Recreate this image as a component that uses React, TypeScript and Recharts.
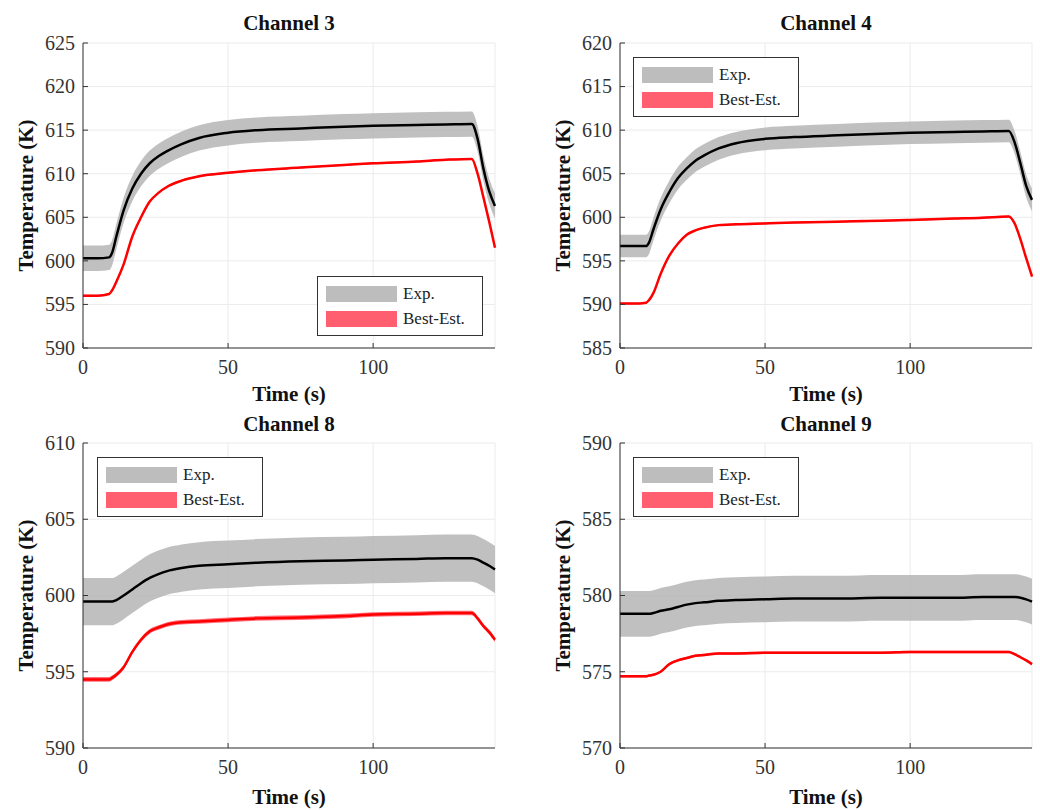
import { ComposedChart, Area, Line, XAxis, YAxis, CartesianGrid, Legend } from "recharts"

const FONT = "Liberation Serif"
const AXIS_COLOR = "#333333"

// time samples shared by all channels (s)
const TIME = [0, 5, 9, 10, 11.5, 14, 17, 20, 23, 26, 29, 34, 40, 50, 60, 75, 90, 100, 115, 125, 134, 136, 138, 140, 142]
const TIME_TICKS = [0, 50, 100]

// Channel 3
const CH3_EXP = [600.3, 600.3, 600.4, 600.9, 602.8, 605.8, 608.3, 610.0, 611.2, 612.0, 612.6, 613.4, 614.1, 614.7, 615.0, 615.2, 615.4, 615.5, 615.6, 615.65, 615.7, 614.0, 610.6, 608.0, 606.3]
const CH3_BEST = [596.0, 596.0, 596.2, 596.6, 597.6, 599.6, 602.8, 605.0, 606.8, 607.8, 608.5, 609.2, 609.7, 610.1, 610.4, 610.7, 611.0, 611.2, 611.4, 611.6, 611.7, 610.0, 607.3, 604.5, 601.5]
const CH3_EXP_UNC = 1.45
const CH3_BEST_UNC = 0.1
const CH3_TICKS = [590, 595, 600, 605, 610, 615, 620, 625]

// Channel 4
const CH4_EXP = [596.7, 596.7, 596.7, 597.1, 598.6, 600.9, 602.9, 604.5, 605.6, 606.5, 607.1, 607.9, 608.5, 609.0, 609.2, 609.4, 609.6, 609.7, 609.8, 609.85, 609.9, 608.6, 606.2, 603.6, 602.0]
const CH4_BEST = [590.1, 590.1, 590.2, 590.5, 591.3, 593.5, 595.6, 597.0, 598.0, 598.5, 598.8, 599.1, 599.2, 599.3, 599.4, 599.5, 599.6, 599.7, 599.85, 599.95, 600.1, 599.3, 597.5, 595.3, 593.2]
const CH4_EXP_UNC = 1.3
const CH4_BEST_UNC = 0.1
const CH4_TICKS = [585, 590, 595, 600, 605, 610, 615, 620]

// Channel 8
const CH8_EXP = [599.6, 599.6, 599.6, 599.6, 599.7, 600.0, 600.4, 600.8, 601.15, 601.4, 601.6, 601.8, 601.95, 602.05, 602.15, 602.25, 602.3, 602.35, 602.4, 602.45, 602.45, 602.35, 602.15, 601.95, 601.7]
const CH8_BEST = [594.5, 594.5, 594.5, 594.6, 594.8, 595.3, 596.3, 597.1, 597.65, 597.9, 598.1, 598.25, 598.3, 598.4, 598.5, 598.55, 598.65, 598.75, 598.8, 598.85, 598.85, 598.5, 598.0, 597.6, 597.1]
const CH8_EXP_UNC = 1.55
const CH8_BEST_UNC = 0.15
const CH8_TICKS = [590, 595, 600, 605, 610]

// Channel 9
const CH9_EXP = [578.8, 578.8, 578.8, 578.8, 578.85, 579.0, 579.1, 579.25, 579.4, 579.5, 579.55, 579.65, 579.7, 579.75, 579.8, 579.8, 579.85, 579.85, 579.85, 579.9, 579.9, 579.9, 579.85, 579.75, 579.6]
const CH9_BEST = [574.7, 574.7, 574.7, 574.75, 574.8, 575.0, 575.5, 575.75, 575.9, 576.05, 576.1, 576.2, 576.2, 576.25, 576.25, 576.25, 576.25, 576.3, 576.3, 576.3, 576.3, 576.15, 575.95, 575.75, 575.5]
const CH9_EXP_UNC = 1.5
const CH9_BEST_UNC = 0.08
const CH9_TICKS = [570, 575, 580, 585, 590]

type PanelProps = {
  title: string
  exp: number[]
  best: number[]
  expUnc: number
  bestUnc: number
  yTicks: number[]
  x: number
  y: number
  marginLeft: number
  marginRight: number
  marginTop: number
  xAxisHeight: number
  xLabelOffset: number
  titleTop: number
  legendLeft: number
  legendTop: number
}

// serif tick labels (the default tick text ignores fontFamily)
const XTick = (props: any) => (
  <text x={props.x} y={props.y} dy="0.71em" textAnchor="middle" fontFamily={FONT} fontSize={20} fill={AXIS_COLOR}>
    {props.payload.value}
  </text>
)

const YTick = (props: any) => (
  <text x={props.x} y={props.y} dy="0.34em" textAnchor="end" fontFamily={FONT} fontSize={20} fill={AXIS_COLOR}>
    {props.payload.value}
  </text>
)

function LegendBox() {
  const row = (color: string, label: string) => (
    <div style={{ display: "flex", alignItems: "center", height: 25 }}>
      <div style={{ width: 71, height: 16, background: color, marginRight: 6 }} />
      <span style={{ fontFamily: FONT, fontSize: 17, color: "#222" }}>{label}</span>
    </div>
  )
  return (
    <div style={{ width: 156, height: 50, border: "1px solid #333", background: "#fff", padding: "4px 0 4px 8px" }}>
      {row("#bdbdbd", "Exp.")}
      {row("#ff5f6e", "Best-Est.")}
    </div>
  )
}

function Panel(p: PanelProps) {
  const data = TIME.map((t, i) => ({
    t,
    exp: p.exp[i],
    best: p.best[i],
    expBand: [p.exp[i] - p.expUnc, p.exp[i] + p.expUnc],
    bestBand: [p.best[i] - p.bestUnc, p.best[i] + p.bestUnc],
  }))
  const yDomain = [p.yTicks[0], p.yTicks[p.yTicks.length - 1]]
  const plotLeft = p.marginLeft + 70
  const plotWidth = 520 - plotLeft - p.marginRight
  const labelStyle = { fontFamily: FONT, fontSize: 21, fontWeight: "bold", fill: "#111" }

  return (
    <div style={{ position: "absolute", left: p.x, top: p.y, width: 520, height: 405, fontFamily: FONT }}>
      <div
        style={{
          position: "absolute",
          left: plotLeft,
          width: plotWidth,
          top: p.titleTop,
          textAlign: "center",
          fontFamily: FONT,
          fontWeight: "bold",
          fontSize: 21,
          lineHeight: "21px",
          color: "#111",
        }}
      >
        {p.title}
      </div>
      <ComposedChart
        width={520}
        height={405}
        data={data}
        margin={{ top: p.marginTop, right: p.marginRight, bottom: 0, left: p.marginLeft }}
      >
        <CartesianGrid stroke="#ebebeb" strokeWidth={1} />
        <XAxis
          dataKey="t"
          type="number"
          domain={[0, 142]}
          ticks={TIME_TICKS}
          height={p.xAxisHeight}
          tickSize={-5}
          tickMargin={17}
          stroke={AXIS_COLOR}
          tick={<XTick />}
          label={{ value: "Time (s)", position: "insideBottom", offset: p.xLabelOffset, style: labelStyle }}
        />
        <XAxis
          xAxisId="top"
          orientation="top"
          type="number"
          domain={[0, 142]}
          ticks={TIME_TICKS}
          height={0}
          tickSize={-5}
          tick={false}
          stroke={AXIS_COLOR}
        />
        <YAxis
          type="number"
          domain={yDomain}
          ticks={p.yTicks}
          width={70}
          tickSize={-5}
          tickMargin={13}
          stroke={AXIS_COLOR}
          tick={<YTick />}
          label={{
            value: "Temperature (K)",
            angle: -90,
            position: "insideLeft",
            offset: 13,
            textAnchor: "middle",
            style: { ...labelStyle, textAnchor: "middle" },
          }}
        />
        <YAxis
          yAxisId="right"
          orientation="right"
          type="number"
          domain={yDomain}
          ticks={p.yTicks}
          width={0}
          tickSize={-5}
          tick={false}
          stroke={AXIS_COLOR}
        />
        <Area
          dataKey="expBand"
          type="monotone"
          stroke="none"
          fill="#b5b5b5"
          fillOpacity={0.85}
          isAnimationActive={false}
        />
        <Area
          dataKey="bestBand"
          type="monotone"
          stroke="none"
          fill="#ff4a5a"
          fillOpacity={0.8}
          isAnimationActive={false}
        />
        <Line dataKey="exp" type="monotone" stroke="#000" strokeWidth={2.5} dot={false} isAnimationActive={false} />
        <Line dataKey="best" type="monotone" stroke="#ff0000" strokeWidth={2.5} dot={false} isAnimationActive={false} />
        <Legend
          layout="horizontal"
          verticalAlign="middle"
          align="center"
          content={() => <LegendBox />}
          wrapperStyle={{ left: p.legendLeft, top: p.legendTop, width: "auto", height: "auto" }}
        />
      </ComposedChart>
    </div>
  )
}

export default function App() {
  return (
    <div style={{ position: "absolute", left: 0, top: 0, width: 1040, height: 810, background: "#fff", fontFamily: FONT }}>
      <Panel
        title="Channel 3"
        exp={CH3_EXP}
        best={CH3_BEST}
        expUnc={CH3_EXP_UNC}
        bestUnc={CH3_BEST_UNC}
        yTicks={CH3_TICKS}
        x={0}
        y={0}
        marginLeft={13}
        marginRight={25}
        marginTop={43}
        xAxisHeight={57}
        xLabelOffset={4}
        titleTop={13}
        legendLeft={317}
        legendTop={276}
      />
      <Panel
        title="Channel 4"
        exp={CH4_EXP}
        best={CH4_BEST}
        expUnc={CH4_EXP_UNC}
        bestUnc={CH4_BEST_UNC}
        yTicks={CH4_TICKS}
        x={520}
        y={0}
        marginLeft={30}
        marginRight={8}
        marginTop={43}
        xAxisHeight={57}
        xLabelOffset={4}
        titleTop={13}
        legendLeft={113}
        legendTop={57}
      />
      <Panel
        title="Channel 8"
        exp={CH8_EXP}
        best={CH8_BEST}
        expUnc={CH8_EXP_UNC}
        bestUnc={CH8_BEST_UNC}
        yTicks={CH8_TICKS}
        x={0}
        y={405}
        marginLeft={13}
        marginRight={25}
        marginTop={38}
        xAxisHeight={62}
        xLabelOffset={6}
        titleTop={9}
        legendLeft={97}
        legendTop={52}
      />
      <Panel
        title="Channel 9"
        exp={CH9_EXP}
        best={CH9_BEST}
        expUnc={CH9_EXP_UNC}
        bestUnc={CH9_BEST_UNC}
        yTicks={CH9_TICKS}
        x={520}
        y={405}
        marginLeft={30}
        marginRight={8}
        marginTop={38}
        xAxisHeight={62}
        xLabelOffset={6}
        titleTop={9}
        legendLeft={113}
        legendTop={52}
      />
    </div>
  )
}
